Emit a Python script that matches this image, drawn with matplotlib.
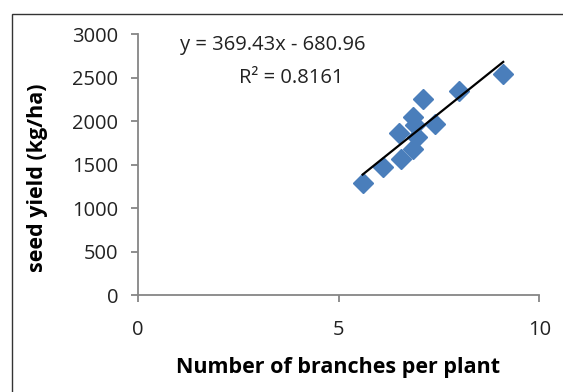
import numpy as np
import matplotlib
matplotlib.use("Agg")
import matplotlib.pyplot as plt
from matplotlib.patches import Rectangle

# values
branches = [5.6, 6.1, 6.55, 6.5, 6.85, 6.9, 6.85, 6.95, 7.1, 7.4, 8.0, 9.1]
seed_yield = [1290, 1475, 1570, 1860, 1680, 1960, 2050, 1820, 2250, 1970, 2350, 2540]
slope, intercept = 369.43, -680.96
r2 = 0.8161
x_ticks = [0, 5, 10]
y_ticks = [0, 500, 1000, 1500, 2000, 2500, 3000]

plt.rcParams['font.family'] = ['Open Sans', 'DejaVu Sans']

fig = plt.figure(figsize=(5.63, 3.92), dpi=100)
ax = fig.add_axes([0.2446, 0.2462, 0.958 - 0.2446, 0.913 - 0.2462])

ax.plot(branches, seed_yield, linestyle="none", marker="D", markersize=10.5,
        color="#4A7EBB", zorder=2)

xs = np.array([min(branches), max(branches)])
ax.plot(xs, slope * xs + intercept, color="black", linewidth=1.6, zorder=3)

ax.set_xlim(0, 10)
ax.set_ylim(0, 3000)
ax.set_xticks(x_ticks)
ax.set_yticks(y_ticks)

for s in ["top", "right"]:
    ax.spines[s].set_visible(False)
for s in ["left", "bottom"]:
    ax.spines[s].set_color("#868686")
    ax.spines[s].set_linewidth(1.3)
ax.tick_params(axis="both", direction="out", length=5, width=1.3,
               color="#868686", labelsize=14.5, labelcolor="#222222")
ax.tick_params(axis="y", pad=9)
ax.tick_params(axis="x", pad=13)

ax.set_xlabel("Number of branches per plant", fontsize=15.5, fontweight="bold",
              va="center")
ax.set_ylabel("seed yield (kg/ha)", fontsize=15.5, fontweight="bold",
              va="center")
ax.xaxis.set_label_coords(0.5, -0.277)
ax.yaxis.set_label_coords(-0.25, 0.45)

ax.text(1.05, 2870, f"y = {slope}x - {abs(intercept)}", fontsize=14.5,
        ha="left", va="center", color="#222222")
ax.text(3.82, 2500, f"R² = {r2}", fontsize=14.5, ha="center", va="center",
        color="#222222")

# outer chart frame (partly cut off in the reference)
fig.add_artist(Rectangle((12 / 563, -0.1), 1.2, 1 - 14 / 392 + 0.1,
                         transform=fig.transFigure, fill=False,
                         edgecolor="#333333", linewidth=1.0))

fig.savefig("out.png", dpi=100)
